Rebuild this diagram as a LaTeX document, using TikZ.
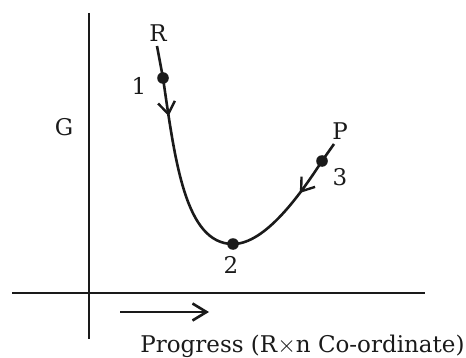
\documentclass[tikz,border=0pt]{standalone}
\usepackage{fontspec}
\setmainfont{DejaVu Serif}
\usepackage{tikz}
\usetikzlibrary{positioning,calc,arrows.meta,decorations.markings}
\definecolor{Ink}{HTML}{1A1A1A}

\begin{document}
\begin{tikzpicture}[
	x=0.5pt,y=-0.5pt,
	node distance=4pt,
	axis/.style={draw=Ink,line width=1.3pt},
	curve/.style={draw=Ink,line width=1.3pt},
	dot/.style={circle,fill=Ink,inner sep=0pt,minimum size=5.8pt},
	lbl/.style={inner sep=1pt,text=Ink,font=\fontsize{11.5}{13}\selectfont},
	midarrow/.style={postaction={decorate},decoration={markings,
		mark=at position #1 with {\arrow{Straight Barb[length=6pt,width=8.5pt,line width=1.2pt]}}}}
	]
	\useasboundingbox (0,0) rectangle (466,358);
	
	% ---------------------------------------------------------
	% AXES
	% ---------------------------------------------------------
	
	\coordinate (ytop) at (89,13);
	\coordinate (ybot) at (89,339);
	\coordinate (xleft) at (12,293);
	\coordinate (xright) at (425,293);
	
	\draw[axis] (ytop) -- (ybot);
	\draw[axis] (xleft) -- (xright);
	
	\node[lbl] (glabel) at (64,127) {G};
	
	% ---------------------------------------------------------
	% PROGRESS ARROW
	% ---------------------------------------------------------
	
	\coordinate (arrstart) at (120,312);
	\coordinate (arrend) at (209,312);
	
	\draw[axis,-{Straight Barb[length=7pt,width=8.5pt]}]
	(arrstart) -- (arrend);
	
	\node[
	lbl,
	anchor=base west
	]
	(progress) at (138,352)
	{Progress (R$\times$n Co-ordinate)};
	
	% ---------------------------------------------------------
	% STATES
	% ---------------------------------------------------------
	
	\coordinate (rend) at (157,46);
	\coordinate (pend) at (334,144);
	
	\node[dot] (s1) at (163,78) {};
	\node[dot] (s2) at (233,244) {};
	\node[dot] (s3) at (322,161) {};
	
	\node[lbl] (rlabel) at (158,33) {R};
	\node[lbl] (plabel) at (340,131) {P};
	\node[lbl] (one) at (139,86) {1};
	\node[lbl] (two) at (231,265) {2};
	\node[lbl] (three) at (340,177) {3};
	
	% ---------------------------------------------------------
	% CURVE
	% ---------------------------------------------------------
	
	\draw[curve]
	(rend) -- (s1.center);
	
	\draw[curve,midarrow=0.2]
	(s1.center) .. controls (175,160) and (185,244) .. (s2.center);
	
	\draw[curve,midarrow=0.31]
	(s3.center) .. controls (300,195) and (265,244) .. (s2.center);
	
	\draw[curve]
	(s3.center) -- (pend);
	
\end{tikzpicture}
\end{document}
